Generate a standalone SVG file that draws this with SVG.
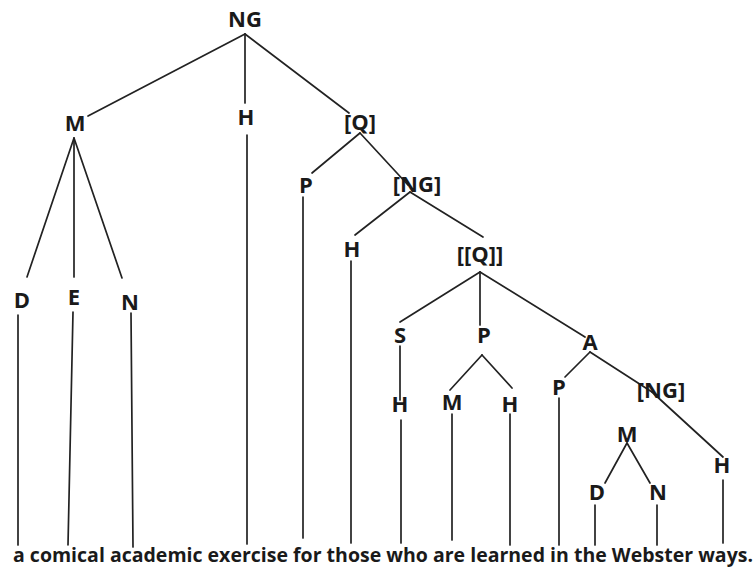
<svg xmlns="http://www.w3.org/2000/svg" width="756" height="570" viewBox="0 0 756 570">
<style>
.lbl{font-family:"Open Sans","Noto Sans","DejaVu Sans",sans-serif;font-weight:bold;font-size:22px;fill:#1a1a1a;text-anchor:middle}
.snt{font-family:"Open Sans","Noto Sans","DejaVu Sans",sans-serif;font-weight:bold;font-size:19px;fill:#1a1a1a}
#connectors line{stroke:#222;stroke-width:1.7;stroke-linecap:round}
</style>
<rect width="756" height="570" fill="#fff"/>
<g id="connectors">
<line x1="245" y1="34" x2="88" y2="116"/>
<line x1="245" y1="34" x2="245" y2="103"/>
<line x1="245" y1="34" x2="349" y2="113"/>
<line x1="74" y1="138" x2="27" y2="277"/>
<line x1="74" y1="138" x2="74" y2="277"/>
<line x1="74" y1="138" x2="122" y2="278"/>
<line x1="18" y1="315" x2="18" y2="545"/>
<line x1="73" y1="312" x2="68" y2="545"/>
<line x1="131" y1="313" x2="133" y2="547"/>
<line x1="247" y1="135" x2="247" y2="544"/>
<line x1="360" y1="133" x2="312" y2="173"/>
<line x1="360" y1="133" x2="408" y2="185"/>
<line x1="303" y1="197" x2="303" y2="538"/>
<line x1="410" y1="192" x2="355" y2="235"/>
<line x1="410" y1="192" x2="483" y2="237"/>
<line x1="351" y1="261" x2="351" y2="543"/>
<line x1="480" y1="272" x2="400" y2="322"/>
<line x1="480" y1="272" x2="480" y2="325"/>
<line x1="480" y1="272" x2="585" y2="337"/>
<line x1="400" y1="346" x2="400" y2="400"/>
<line x1="401" y1="420" x2="401" y2="543"/>
<line x1="482" y1="355" x2="450" y2="390"/>
<line x1="482" y1="355" x2="512" y2="388"/>
<line x1="452" y1="414" x2="452" y2="540"/>
<line x1="510" y1="414" x2="510" y2="545"/>
<line x1="590" y1="352" x2="565" y2="377"/>
<line x1="590" y1="352" x2="652" y2="392"/>
<line x1="652" y1="392" x2="723" y2="457"/>
<line x1="559" y1="398" x2="559" y2="545"/>
<line x1="627" y1="443" x2="605" y2="483"/>
<line x1="627" y1="443" x2="650" y2="483"/>
<line x1="595" y1="505" x2="595" y2="545"/>
<line x1="657" y1="505" x2="657" y2="545"/>
<line x1="723" y1="480" x2="723" y2="543"/>
</g>
<g id="n-NG"><text class="lbl" x="245" y="27">NG</text></g>
<g id="n-M1"><text class="lbl" x="75" y="131">M</text></g>
<g id="n-H1"><text class="lbl" x="246" y="125">H</text></g>
<g id="n-Q1"><text class="lbl" x="360" y="130">[Q]</text></g>
<g id="n-D1"><text class="lbl" x="22" y="308">D</text></g>
<g id="n-E1"><text class="lbl" x="74" y="305">E</text></g>
<g id="n-N1"><text class="lbl" x="130" y="310">N</text></g>
<g id="n-P1"><text class="lbl" x="306" y="193">P</text></g>
<g id="n-NG2"><text class="lbl" x="417" y="192">[NG]</text></g>
<g id="n-H2"><text class="lbl" x="352" y="257">H</text></g>
<g id="n-QQ"><text class="lbl" x="480" y="262">[[Q]]</text></g>
<g id="n-S"><text class="lbl" x="400" y="343">S</text></g>
<g id="n-P2"><text class="lbl" x="484" y="343">P</text></g>
<g id="n-A"><text class="lbl" x="590" y="350">A</text></g>
<g id="n-H3"><text class="lbl" x="400" y="412">H</text></g>
<g id="n-M2"><text class="lbl" x="452" y="410">M</text></g>
<g id="n-H4"><text class="lbl" x="510" y="412">H</text></g>
<g id="n-P3"><text class="lbl" x="559" y="395">P</text></g>
<g id="n-NG3"><text class="lbl" x="661" y="398">[NG]</text></g>
<g id="n-M3"><text class="lbl" x="627" y="442">M</text></g>
<g id="n-D2"><text class="lbl" x="597" y="500">D</text></g>
<g id="n-N2"><text class="lbl" x="658" y="500">N</text></g>
<g id="n-H5"><text class="lbl" x="722" y="473">H</text></g>
<g id="sentence"><text class="snt" x="13" y="562" textLength="740" lengthAdjust="spacingAndGlyphs">a comical academic exercise for those who are learned in the Webster ways.</text></g>
</svg>
